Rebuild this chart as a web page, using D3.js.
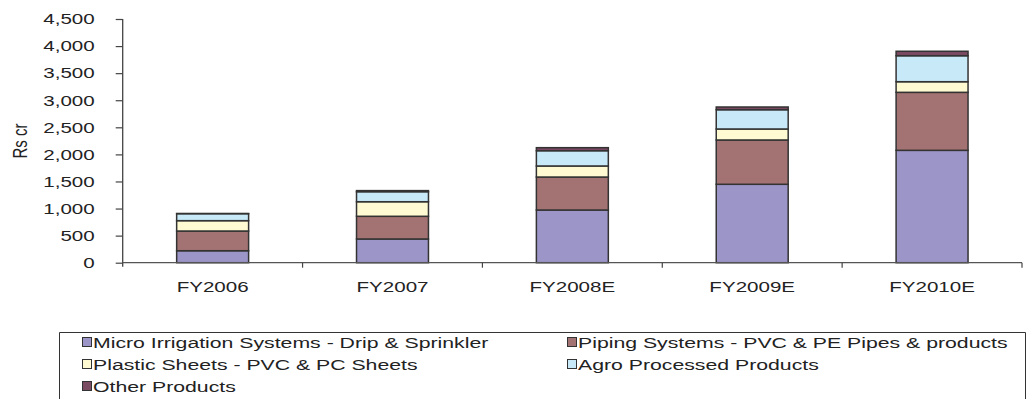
<!DOCTYPE html>
<html>
<head>
<meta charset="utf-8">
<script src="https://cdn.jsdelivr.net/npm/d3@7"></script>
<style>
  html, body { margin: 0; padding: 0; background: #fff; }
  svg { display: block; }
  text { font-family: "Liberation Sans", Arial, sans-serif; fill: #222; }
</style>
</head>
<body>
<svg id="chart" width="1031" height="399"></svg>
<script>
// Revenue mix by business segment (Rs crore)
const years = ["FY2006", "FY2007", "FY2008E", "FY2009E", "FY2010E"];
const segments = [
  "Micro Irrigation Systems - Drip & Sprinkler",
  "Piping Systems - PVC & PE Pipes & products",
  "Plastic Sheets - PVC & PC Sheets",
  "Agro Processed Products",
  "Other Products"
];
const microIrrigation = [221, 438, 973, 1448, 2075];
const pipingSystems   = [364, 419, 609, 818, 1071];
const plasticSheets   = [191, 269, 204, 203, 196];
const agroProcessed   = [129, 185, 282, 356, 480];
const otherProducts   = [3, 20, 56, 50, 82];
const yTicks = [0, 500, 1000, 1500, 2000, 2500, 3000, 3500, 4000, 4500];
const colors = ["#9c95c8", "#a37272", "#fffad2", "#c7e9f8", "#7b4a63"];

const seriesValues = [microIrrigation, pipingSystems, plasticSheets, agroProcessed, otherProducts];
const rows = years.map((yr, i) => {
  const r = { year: yr };
  segments.forEach((s, j) => r[s] = seriesValues[j][i]);
  return r;
});
const stacked = d3.stack().keys(segments)(rows);

const svg = d3.select("#chart");
const STRETCH = 1.37;   // wide-set lettering
const plotLeft = 122.7, plotRight = 1022, plotTop = 19, plotBottom = 262.7;

const x = d3.scaleBand().domain(years).range([plotLeft, plotRight])
  .paddingInner(0.6).paddingOuter(0.3);
const y = d3.scaleLinear().domain([0, 4500]).range([plotBottom, plotTop]);

// widen a text element horizontally around its anchor
function widen(sel) {
  sel.each(function () {
    const n = this.getComputedTextLength();
    this.setAttribute("textLength", n * STRETCH);
    this.setAttribute("lengthAdjust", "spacingAndGlyphs");
  });
}

// bars
svg.append("g").selectAll("g").data(stacked).join("g")
  .attr("fill", (d, i) => colors[i])
  .selectAll("rect").data(d => d).join("rect")
  .attr("x", d => x(d.data.year))
  .attr("width", x.bandwidth())
  .attr("y", d => y(d[1]))
  .attr("height", d => y(d[0]) - y(d[1]))
  .attr("stroke", "#333")
  .attr("stroke-width", 1.5);

// y axis
const yAxis = svg.append("g").attr("transform", `translate(${plotLeft},0)`)
  .call(d3.axisLeft(y).tickValues(yTicks).tickFormat(d3.format(",")).tickSize(7).tickPadding(21));
yAxis.select(".domain").attr("stroke", "#444").attr("stroke-width", 1.3)
  .attr("d", `M0,${plotTop}V${plotBottom + 4}`);
yAxis.selectAll(".tick line").attr("stroke", "#444").attr("stroke-width", 1.2);
yAxis.selectAll(".tick text").attr("font-size", 15).attr("font-family", "Liberation Sans, Arial, sans-serif")
  .attr("fill", "#222").call(widen);

// x axis with category-boundary ticks
const xAxis = svg.append("g").attr("transform", `translate(0,${plotBottom})`)
  .call(d3.axisBottom(x).tickSize(0).tickPadding(19));
xAxis.select(".domain").attr("stroke", "#555").attr("stroke-width", 1.3)
  .attr("d", `M${plotLeft},0H${plotRight}`);
xAxis.selectAll(".tick text").attr("font-size", 15).attr("font-family", "Liberation Sans, Arial, sans-serif")
  .attr("fill", "#222").call(widen);
const bounds = years.map(d => x(d) + x.bandwidth() / 2 + x.step() / 2);
xAxis.append("g").selectAll("line").data(bounds).join("line")
  .attr("x1", d => d).attr("x2", d => d).attr("y1", 0).attr("y2", 5)
  .attr("stroke", "#444").attr("stroke-width", 1.2);

// y axis title
svg.append("text")
  .attr("transform", `translate(27,141) rotate(-90) scale(1,${STRETCH})`)
  .attr("text-anchor", "middle")
  .attr("font-size", 15)
  .text("Rs cr");

// legend
const lg = svg.append("g");
lg.append("path")
  .attr("d", "M59.5,410V332.5H1025.5V410")
  .attr("fill", "none").attr("stroke", "#333").attr("stroke-width", 1);
const colX = [82, 567], rowY = [342, 364, 386];
const items = lg.selectAll("g").data(segments).join("g")
  .attr("transform", (d, i) => `translate(${colX[i % 2]},${rowY[Math.floor(i / 2)]})`);
items.append("rect")
  .attr("x", 0.5).attr("y", -4.5).attr("width", 9).attr("height", 9)
  .attr("fill", (d, i) => colors[i]).attr("stroke", "#333").attr("stroke-width", 1);
items.append("text")
  .attr("x", 11).attr("dy", "0.36em")
  .attr("font-size", 15.5)
  .text(d => d)
  .call(widen);
</script>
</body>
</html>
